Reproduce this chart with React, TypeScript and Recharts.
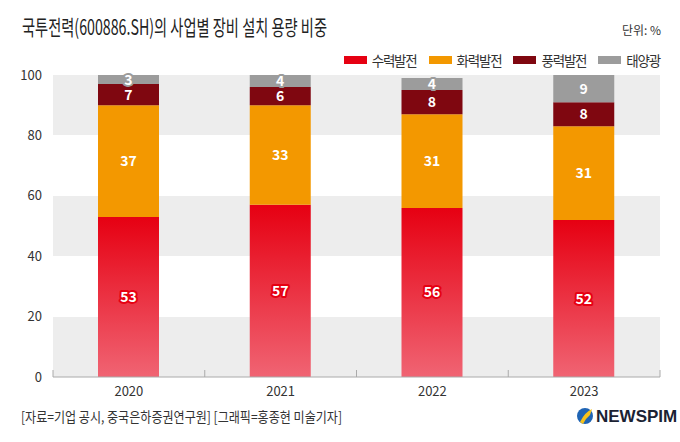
import { BarChart, Bar, XAxis, YAxis, CartesianGrid, Legend, LabelList } from "recharts"

const years = ["2020", "2021", "2022", "2023"]
const hydro = [53, 57, 56, 52]
const thermal = [37, 33, 31, 31]
const wind = [7, 6, 8, 8]
const solar = [3, 4, 4, 9]
const yTicks = [0, 20, 40, 60, 80, 100]

const seriesNames = { hydro: "수력발전", thermal: "화력발전", wind: "풍력발전", solar: "태양광" }
const legendOrder = ["수력발전", "화력발전", "풍력발전", "태양광"]
const colors: Record<string, string> = {
  수력발전: "#E60012",
  화력발전: "#F39800",
  풍력발전: "#7F0710",
  태양광: "#9C9C9C",
}

const data = years.map((year, i) => ({
  year,
  hydro: hydro[i],
  thermal: thermal[i],
  wind: wind[i],
  solar: solar[i],
}))

const font = "'Noto Sans CJK KR', 'Noto Sans', sans-serif"

function labelRenderer(stroke: string) {
  return (props: any) => {
    const { x, y, width, height, value } = props
    return (
      <text
        x={x + width / 2}
        y={y + height / 2}
        dy="0.36em"
        textAnchor="middle"
        fill="#fff"
        stroke={stroke}
        strokeWidth={4}
        strokeLinejoin="round"
        paintOrder="stroke"
        fontSize={14}
        fontWeight={700}
        fontFamily={font}
      >
        {value}
      </text>
    )
  }
}

function YearTick(props: any) {
  const { x, y, payload, index, visibleTicksCount } = props
  const half = payload.offset ?? 76
  return (
    <g>
      <line x1={x - half} x2={x - half} y1={y - 7} y2={y} stroke="#aaa" />
      {index === visibleTicksCount - 1 && (
        <line x1={x + half} x2={x + half} y1={y - 7} y2={y} stroke="#aaa" />
      )}
      <text x={x} y={y + 19} textAnchor="middle" fill="#333" fontSize={13} fontFamily={font}>
        {payload.value}
      </text>
    </g>
  )
}

function LegendContent(props: any) {
  const payload = [...(props.payload || [])].sort(
    (a: any, b: any) => legendOrder.indexOf(a.value) - legendOrder.indexOf(b.value)
  )
  return (
    <div style={{ display: "flex", alignItems: "center", height: 20, fontFamily: font }}>
      {payload.map((entry: any) => (
        <div key={entry.value} style={{ display: "flex", alignItems: "center", marginLeft: 12 }}>
          <span style={{ width: 23, height: 8, background: colors[entry.value], marginRight: 5 }} />
          <span style={{ fontSize: 13.5, letterSpacing: -1.2, color: "#333" }}>{entry.value}</span>
        </div>
      ))}
    </div>
  )
}

export default function App() {
  return (
    <div style={{ position: "absolute", left: 0, top: 0, width: 680, height: 442, background: "#fff" }}>
      <BarChart
        width={680}
        height={442}
        data={data}
        margin={{ top: 55, right: 20, left: 0, bottom: 35 }}
      >
        <defs>
          <linearGradient id="redGrad" x1="0" y1="0" x2="0" y2="1">
            <stop offset="0%" stopColor="#E60012" />
            <stop offset="100%" stopColor="#F06473" />
          </linearGradient>
        </defs>
        <CartesianGrid
          vertical={false}
          stroke="transparent"
          horizontalFill={["#EDEDED", "#FFFFFF"]}
          fillOpacity={1}
        />
        <XAxis
          dataKey="year"
          axisLine={{ stroke: "#aaa" }}
          tickLine={false}
          tickSize={0}
          tickMargin={0}
          height={30}
          tick={<YearTick />}
        />
        <YAxis
          domain={[0, 100]}
          ticks={yTicks}
          axisLine={false}
          tickLine={false}
          width={53}
          tickMargin={5}
          tick={{ fill: "#333", fontSize: 13, fontFamily: font }}
        />
        <Legend
          verticalAlign="top"
          align="right"
          content={<LegendContent />}
          wrapperStyle={{ top: 50, right: 20, left: "auto", width: "auto" }}
        />
        <Bar dataKey="hydro" name={seriesNames.hydro} stackId="a" fill="url(#redGrad)" barSize={61} isAnimationActive={false}>
          <LabelList dataKey="hydro" content={labelRenderer("#E60012")} />
        </Bar>
        <Bar dataKey="thermal" name={seriesNames.thermal} stackId="a" fill={colors["화력발전"]} barSize={61} isAnimationActive={false}>
          <LabelList dataKey="thermal" content={labelRenderer("#F39800")} />
        </Bar>
        <Bar dataKey="wind" name={seriesNames.wind} stackId="a" fill={colors["풍력발전"]} barSize={61} isAnimationActive={false}>
          <LabelList dataKey="wind" content={labelRenderer("#7F0710")} />
        </Bar>
        <Bar dataKey="solar" name={seriesNames.solar} stackId="a" fill={colors["태양광"]} barSize={61} isAnimationActive={false}>
          <LabelList dataKey="solar" content={labelRenderer("#9C9C9C")} />
        </Bar>
      </BarChart>
      <svg
        width={680}
        height={442}
        style={{ position: "absolute", left: 0, top: 0, pointerEvents: "none" }}
      >
        <text x={22} y={35} fontSize={21} fill="#222" fontFamily={font} textLength={305} lengthAdjust="spacingAndGlyphs">
          국투전력(600886.SH)의 사업별 장비 설치 용량 비중
        </text>
        <text x={661} y={35} fontSize={12} fill="#333" fontFamily={font} textAnchor="end" textLength={39} lengthAdjust="spacingAndGlyphs">
          단위: %
        </text>
        <text x={21} y={422} fontSize={14} fill="#333" fontFamily={font} textLength={321} lengthAdjust="spacingAndGlyphs">
          [자료=기업 공시, 중국은하증권연구원] [그래픽=홍종현 미술기자]
        </text>
        <circle cx={585} cy={416} r={8} fill="#1F64B4" />
        <path d="M580 422 Q585 412 592 409 L590 415 Q586 418 583 424 Z" fill="#F6C21A" />
        <text x={596} y={422} fontSize={17} fontWeight={700} fill="#1B2233" fontFamily="'Liberation Sans Narrow', 'Liberation Sans', sans-serif">
          NEWSPIM
        </text>
      </svg>
    </div>
  )
}
